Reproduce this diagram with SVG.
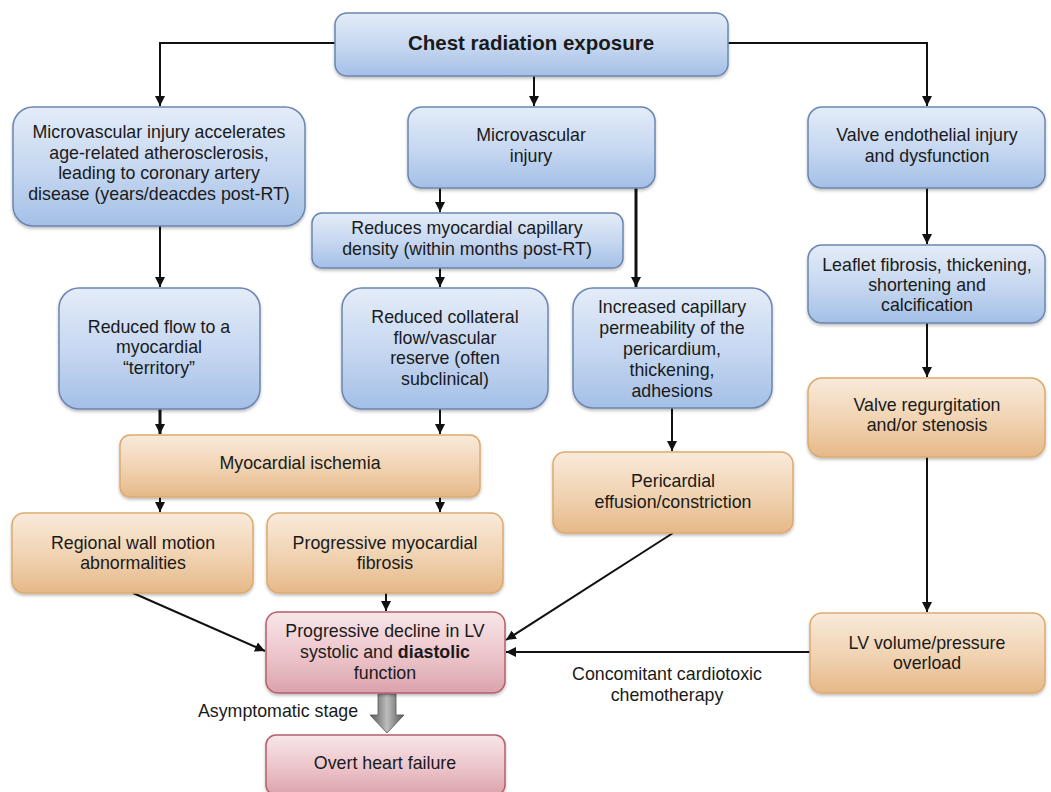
<svg xmlns="http://www.w3.org/2000/svg" width="1051" height="792" viewBox="0 0 1051 792">
<defs>
<linearGradient id="gB" x1="0" y1="0" x2="0" y2="1"><stop offset="0" stop-color="#e4ecf8"/><stop offset="0.55" stop-color="#c4d6f0"/><stop offset="1" stop-color="#a4bfe6"/></linearGradient>
<linearGradient id="gO" x1="0" y1="0" x2="0" y2="1"><stop offset="0" stop-color="#f9eadb"/><stop offset="0.55" stop-color="#f0d2b0"/><stop offset="1" stop-color="#e6b888"/></linearGradient>
<linearGradient id="gR" x1="0" y1="0" x2="0" y2="1"><stop offset="0" stop-color="#f7e6e9"/><stop offset="0.55" stop-color="#ecc4ca"/><stop offset="1" stop-color="#dba2ac"/></linearGradient>
<linearGradient id="gG" x1="0" y1="0" x2="1" y2="0"><stop offset="0" stop-color="#555"/><stop offset="0.5" stop-color="#bdbdbd"/><stop offset="1" stop-color="#555"/></linearGradient>
<filter id="sh" x="-10%" y="-10%" width="120%" height="130%"><feDropShadow dx="0" dy="2" stdDeviation="1.5" flood-color="#000" flood-opacity="0.25"/></filter>
<marker id="ar" viewBox="0 0 10 10" refX="10" refY="5" markerWidth="10" markerHeight="10" markerUnits="userSpaceOnUse" orient="auto"><path d="M0,0 L10,5 L0,10 z" fill="#111"/></marker>
</defs>
<style>
.b{fill:url(#gB);stroke:#6a86b0;stroke-width:1.5;filter:url(#sh)}
.o{fill:url(#gO);stroke:#dcaa6e;stroke-width:1.5;filter:url(#sh)}
.r{fill:url(#gR);stroke:#b4606c;stroke-width:1.5;filter:url(#sh)}
text{font-family:"Liberation Sans",Arial,sans-serif;font-size:17.8px;fill:#1a1a1a;text-anchor:middle}
.t{font-weight:bold;font-size:20.5px}
.c{fill:none;stroke:#111;stroke-width:2;marker-end:url(#ar)}
.ct{stroke-width:3}
</style>
<rect width="1051" height="792" fill="#fff"/>
<g id="connectors">
<path class="c" d="M335,43 H160 V106"/>
<path class="c" d="M534,76 V106"/>
<path class="c" d="M728,43 H927 V106"/>
<path class="c" d="M160,226 V287"/>
<path class="c" d="M440,188 V212"/>
<path class="c ct" d="M636,188 V287"/>
<path class="c" d="M927,188 V244"/>
<path class="c" d="M440,268 V287"/>
<path class="c" d="M927,323 V377"/>
<path class="c ct" d="M160,409 V434"/>
<path class="c" d="M440,409 V434"/>
<path class="c" d="M672,408 V451"/>
<path class="c" d="M160,497 V512"/>
<path class="c" d="M440,497 V512"/>
<path class="c" d="M927,457 V612"/>
<path class="c" d="M386,593 V611"/>
<path class="c" d="M133,593 L265,651"/>
<path class="c" d="M673,533 L506,640"/>
<path class="c" d="M810,652 H506"/>
<path d="M378,694 H396 V715 H404 L387,733 L370,715 H378 Z" fill="url(#gG)" stroke="#555" stroke-width="0.8"/>
</g>
<g id="n_chest"><rect class="b" x="335" y="13" width="393" height="63" rx="12"/><text class="t" x="531" y="50">Chest radiation exposure</text></g>
<g id="n_micro_ath"><rect class="b" x="13" y="107" width="292" height="119" rx="20"/>
<text x="159" y="138">Microvascular injury accelerates</text><text x="159" y="159">age-related atherosclerosis,</text><text x="159" y="179">leading to coronary artery</text><text x="159" y="200">disease (years/deacdes post-RT)</text></g>
<g id="n_micro"><rect class="b" x="408" y="107" width="247" height="81" rx="14"/><text x="531" y="141">Microvascular</text><text x="531" y="162">injury</text></g>
<g id="n_valve"><rect class="b" x="808" y="107" width="237" height="81" rx="14"/><text x="927" y="141">Valve endothelial injury</text><text x="927" y="162">and dysfunction</text></g>
<g id="n_density"><rect class="b" x="312" y="213" width="311" height="55" rx="10"/><text x="467" y="234">Reduces myocardial capillary</text><text x="467" y="255">density (within months post-RT)</text></g>
<g id="n_leaflet"><rect class="b" x="808" y="245" width="237" height="78" rx="14"/><text x="927" y="271">Leaflet fibrosis, thickening,</text><text x="927" y="291">shortening and</text><text x="927" y="311">calcification</text></g>
<g id="n_flow"><rect class="b" x="59" y="288" width="201" height="121" rx="20"/><text x="159" y="333">Reduced flow to a</text><text x="159" y="353">myocardial</text><text x="159" y="374">“territory”</text></g>
<g id="n_collat"><rect class="b" x="342" y="288" width="206" height="121" rx="20"/><text x="445" y="323">Reduced collateral</text><text x="445" y="344">flow/vascular</text><text x="445" y="364">reserve (often</text><text x="445" y="385">subclinical)</text></g>
<g id="n_perm"><rect class="b" x="573" y="288" width="199" height="120" rx="20"/><text x="672" y="313">Increased capillary</text><text x="672" y="334">permeability of the</text><text x="672" y="355">pericardium,</text><text x="672" y="376">thickening,</text><text x="672" y="397">adhesions</text></g>
<g id="n_regurg"><rect class="o" x="808" y="378" width="237" height="79" rx="14"/><text x="927" y="411">Valve regurgitation</text><text x="927" y="431">and/or stenosis</text></g>
<g id="n_ischemia"><rect class="o" x="120" y="435" width="360" height="62" rx="10"/><text x="300" y="469">Myocardial ischemia</text></g>
<g id="n_peri"><rect class="o" x="553" y="452" width="240" height="81" rx="12"/><text x="673" y="487">Pericardial</text><text x="673" y="508">effusion/constriction</text></g>
<g id="n_wall"><rect class="o" x="12" y="513" width="241" height="80" rx="12"/><text x="133" y="549">Regional wall motion</text><text x="133" y="569">abnormalities</text></g>
<g id="n_fib"><rect class="o" x="267" y="513" width="236" height="80" rx="12"/><text x="385" y="549">Progressive myocardial</text><text x="385" y="569">fibrosis</text></g>
<g id="n_lvvol"><rect class="o" x="810" y="613" width="235" height="80" rx="12"/><text x="927" y="649">LV volume/pressure</text><text x="927" y="669">overload</text></g>
<g id="n_decline"><rect class="r" x="266" y="612" width="239" height="81" rx="12"/><text x="385" y="637">Progressive decline in LV</text><text x="385" y="658">systolic and <tspan font-weight="bold">diastolic</tspan></text><text x="385" y="679">function</text></g>
<g id="n_overt"><rect class="r" x="266" y="735" width="239" height="60" rx="10"/><text x="385" y="769">Overt heart failure</text></g>
<g id="labels"><text x="278" y="717">Asymptomatic stage</text><text x="667" y="680">Concomitant cardiotoxic</text><text x="667" y="701">chemotherapy</text></g>
</svg>
